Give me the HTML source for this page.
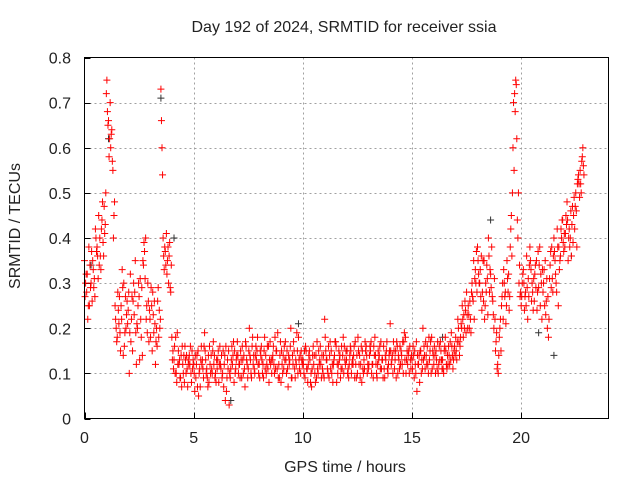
<!DOCTYPE html>
<html><head><meta charset="utf-8"><style>
body{margin:0;background:#fff}
svg text{font-family:"Liberation Sans",sans-serif;font-size:16px;fill:#222}
</style></head><body>
<svg id="chart" width="640" height="480" viewBox="0 0 640 480" xmlns="http://www.w3.org/2000/svg">
<rect width="640" height="480" fill="#fff"/>
<g id="grid"></g>
<g id="axes"></g>
<g id="pts"></g>
<rect x="84.5" y="57.5" width="524" height="361" fill="none" stroke="#000" stroke-width="1"/>
<text x="344" y="32" text-anchor="middle">Day 192 of 2024, SRMTID for receiver ssia</text>
<text x="345" y="472" text-anchor="middle">GPS time / hours</text>
<text transform="translate(20,226) rotate(-90)" text-anchor="middle">SRMTID / TECUs</text>
</svg>
<script>
const xTicks=[0,5,10,15,20];
const yTicks=[0,0.1,0.2,0.3,0.4,0.5,0.6,0.7,0.8];
const yTickLabels=["0","0.1","0.2","0.3","0.4","0.5","0.6","0.7","0.8"];
const seriesStarts=[0.0,0.025,0.05,0.075];
const step=0.1;
const seriesA=[0.35,0.28,0.38,0.30,0.33,0.42,0.36,0.40,0.44,0.47,
0.72,0.66,0.60,0.55,0.25,0.18,0.27,0.22,0.30,0.20,
0.24,0.32,0.15,0.28,0.21,0.27,0.18,0.34,0.40,0.30,
0.22,0.15,0.26,0.20,0.18,0.73,0.40,0.37,0.35,0.39,
0.18,0.13,0.10,0.15,0.09,0.12,0.16,0.11,0.14,0.08,
0.12,0.09,0.15,0.07,0.13,0.19,0.11,0.08,0.14,0.17,
0.10,0.13,0.16,0.09,0.12,0.06,0.15,0.11,0.14,0.10,
0.17,0.12,0.09,0.14,0.16,0.11,0.13,0.18,0.10,0.15,
0.12,0.16,0.09,0.14,0.11,0.17,0.13,0.10,0.15,0.12,
0.08,0.14,0.17,0.11,0.13,0.09,0.15,0.12,0.18,0.10,
0.13,0.09,0.11,0.15,0.07,0.12,0.14,0.10,0.16,0.11,
0.22,0.13,0.09,0.15,0.12,0.17,0.10,0.14,0.11,0.16,
0.13,0.09,0.15,0.12,0.17,0.10,0.14,0.08,0.13,0.16,
0.11,0.15,0.12,0.18,0.09,0.14,0.11,0.16,0.13,0.10,
0.21,0.14,0.11,0.17,0.13,0.15,0.10,0.18,0.12,0.16,
0.13,0.09,0.17,0.12,0.15,0.20,0.11,0.16,0.13,0.18,
0.12,0.15,0.10,0.17,0.13,0.16,0.11,0.14,0.19,0.13,
0.18,0.22,0.16,0.25,0.20,0.28,0.23,0.19,0.26,0.33,
0.38,0.30,0.24,0.35,0.28,0.40,0.32,0.26,0.22,0.11,
0.18,0.25,0.33,0.21,0.28,0.38,0.50,0.72,0.62,0.30,
0.25,0.33,0.28,0.22,0.38,0.30,0.26,0.35,0.29,0.32,
0.28,0.35,0.20,0.31,0.38,0.40,0.30,0.25,0.36,0.44,
0.38,0.48,0.42,0.36,0.45,0.50,0.53,0.55,0.58];
const seriesC=[0.27,0.32,0.25,0.37,0.29,0.40,0.31,0.36,0.48,0.41,
0.75,0.58,0.63,0.40,0.22,0.28,0.19,0.33,0.16,0.23,
0.28,0.17,0.26,0.35,0.20,0.13,0.29,0.39,0.22,0.26,
0.18,0.28,0.21,0.16,0.24,0.66,0.36,0.34,0.38,0.29,
0.13,0.16,0.08,0.12,0.14,0.10,0.13,0.07,0.12,0.15,
0.10,0.12,0.05,0.13,0.11,0.15,0.09,0.16,0.11,0.12,
0.08,0.15,0.12,0.10,0.14,0.09,0.03,0.13,0.17,0.11,
0.14,0.09,0.16,0.11,0.13,0.15,0.10,0.12,0.14,0.18,
0.09,0.13,0.15,0.10,0.16,0.12,0.14,0.18,0.11,0.09,
0.15,0.11,0.13,0.07,0.16,0.14,0.11,0.19,0.13,0.15,
0.12,0.16,0.08,0.13,0.11,0.14,0.09,0.15,0.12,0.10,
0.18,0.11,0.14,0.10,0.13,0.16,0.12,0.09,0.14,0.13,
0.15,0.12,0.10,0.14,0.12,0.18,0.09,0.15,0.11,0.14,
0.12,0.17,0.09,0.14,0.12,0.16,0.13,0.11,0.15,0.12,
0.15,0.10,0.13,0.16,0.11,0.14,0.17,0.10,0.14,0.13,
0.11,0.15,0.06,0.14,0.10,0.13,0.17,0.12,0.15,0.11,
0.16,0.13,0.12,0.15,0.11,0.18,0.14,0.12,0.16,0.15,
0.15,0.20,0.18,0.22,0.26,0.23,0.20,0.28,0.35,0.30,
0.35,0.33,0.28,0.22,0.34,0.36,0.29,0.23,0.15,0.12,
0.20,0.27,0.30,0.25,0.32,0.42,0.60,0.68,0.44,0.34,
0.27,0.30,0.25,0.31,0.35,0.28,0.32,0.24,0.34,0.30,
0.30,0.23,0.27,0.34,0.31,0.37,0.28,0.38,0.42,0.39,
0.41,0.44,0.38,0.43,0.49,0.46,0.54,0.52,0.60];
const seriesB=[0.30,0.22,0.34,0.26,0.31,0.37,0.45,0.33,0.39,0.43,
0.68,0.62,0.64,0.45,0.20,0.24,0.15,0.29,0.19,0.26,
0.10,0.22,0.30,0.19,0.25,0.31,0.14,0.37,0.25,0.17,
0.29,0.23,0.12,0.26,0.20,0.60,0.33,0.41,0.30,0.28,
0.15,0.10,0.19,0.13,0.07,0.14,0.10,0.13,0.16,0.11,
0.06,0.14,0.10,0.16,0.09,0.13,0.07,0.12,0.10,0.14,
0.13,0.08,0.11,0.15,0.04,0.13,0.10,0.16,0.08,0.13,
0.10,0.15,0.13,0.07,0.12,0.20,0.09,0.14,0.16,0.12,
0.15,0.10,0.18,0.12,0.08,0.13,0.16,0.11,0.19,0.14,
0.12,0.16,0.10,0.14,0.20,0.12,0.09,0.15,0.11,0.13,
0.10,0.15,0.12,0.08,0.14,0.10,0.17,0.12,0.09,0.14,
0.15,0.10,0.17,0.12,0.14,0.08,0.15,0.11,0.18,0.12,
0.10,0.14,0.12,0.16,0.09,0.15,0.12,0.11,0.17,0.10,
0.14,0.10,0.16,0.12,0.15,0.11,0.13,0.09,0.17,0.14,
0.12,0.17,0.15,0.10,0.16,0.12,0.19,0.13,0.15,0.11,
0.16,0.12,0.14,0.08,0.13,0.16,0.14,0.10,0.17,0.15,
0.14,0.11,0.16,0.13,0.10,0.15,0.12,0.17,0.14,0.16,
0.13,0.17,0.21,0.18,0.24,0.20,0.26,0.30,0.22,0.37,
0.32,0.27,0.35,0.25,0.31,0.28,0.38,0.20,0.17,0.10,
0.22,0.30,0.27,0.35,0.24,0.45,0.70,0.75,0.40,0.27,
0.30,0.24,0.36,0.27,0.33,0.24,0.34,0.28,0.38,0.22,
0.33,0.26,0.18,0.37,0.28,0.35,0.42,0.33,0.40,0.37,
0.45,0.35,0.40,0.47,0.42,0.38,0.52,0.50,0.56];
const seriesD=[0.32,0.25,0.29,0.35,0.27,0.38,0.34,0.42,0.36,0.50,
0.65,0.70,0.57,0.48,0.17,0.21,0.25,0.14,0.27,0.21,
0.19,0.27,0.23,0.12,0.30,0.22,0.35,0.31,0.19,0.24,
0.25,0.19,0.17,0.29,0.22,0.54,0.38,0.32,0.36,0.34,
0.11,0.18,0.12,0.09,0.16,0.08,0.14,0.12,0.10,0.13,
0.14,0.07,0.11,0.12,0.16,0.10,0.14,0.10,0.15,0.09,
0.11,0.12,0.14,0.07,0.16,0.11,0.09,0.12,0.15,0.14,
0.12,0.13,0.10,0.17,0.09,0.14,0.16,0.11,0.13,0.10,
0.14,0.12,0.11,0.16,0.13,0.10,0.12,0.15,0.09,0.17,
0.10,0.13,0.15,0.12,0.09,0.17,0.13,0.10,0.14,0.12,
0.15,0.11,0.14,0.10,0.16,0.08,0.11,0.13,0.14,0.09,
0.13,0.16,0.11,0.08,0.17,0.12,0.13,0.16,0.10,0.15,
0.11,0.16,0.13,0.09,0.14,0.12,0.16,0.10,0.15,0.12,
0.16,0.12,0.14,0.10,0.13,0.17,0.09,0.14,0.11,0.15,
0.13,0.15,0.09,0.14,0.12,0.17,0.13,0.15,0.10,0.14,
0.14,0.10,0.12,0.15,0.11,0.14,0.12,0.18,0.10,0.14,
0.10,0.17,0.13,0.11,0.15,0.12,0.16,0.13,0.11,0.14,
0.17,0.14,0.20,0.23,0.19,0.25,0.22,0.27,0.31,0.28,
0.30,0.36,0.26,0.30,0.23,0.33,0.27,0.31,0.19,0.14,
0.15,0.22,0.28,0.31,0.27,0.36,0.55,0.74,0.50,0.28,
0.32,0.27,0.29,0.34,0.26,0.31,0.29,0.37,0.25,0.33,
0.25,0.31,0.22,0.29,0.36,0.32,0.38,0.35,0.44,0.41,
0.43,0.40,0.46,0.39,0.47,0.52,0.49,0.57,0.54];
const blackTimes=[0.3,1.1,3.5,4.1,6.7,9.8,16.4,18.6,20.8,21.5,22.3];
const blackValues=[0.34,0.62,0.71,0.40,0.04,0.21,0.18,0.44,0.19,0.14,0.36];

const X0=84.5,X1=608.5,Y0=418.5,Y1=57.5;
const xs=v=>X0+(v/24)*(X1-X0);
const ys=v=>Y0-(v/0.8)*(Y0-Y1);
const NS="http://www.w3.org/2000/svg";
function mk(tag,parent,attrs){const e=document.createElementNS(NS,tag);for(const k in attrs)e.setAttribute(k,attrs[k]);parent.appendChild(e);return e;}
const grid=document.getElementById('grid'),axes=document.getElementById('axes'),pts=document.getElementById('pts');
xTicks.forEach((t,i)=>{
  const x=Math.round(xs(t))+0.5;
  if(t>0){const g=mk('line',grid,{x1:x,x2:x,y1:Y1,y2:Y0,stroke:'#a0a0a0','stroke-dasharray':'2,3'});
  
  }
  const tk=mk('line',axes,{x1:x,x2:x,y1:Y0,y2:Y0-6,stroke:'#000'});
  
  
  const lb=mk('text',axes,{x:xs(t),y:443,'text-anchor':'middle'});lb.textContent=String(t);
  
  
});
yTicks.forEach((t,i)=>{
  const y=Math.round(ys(t))+0.5;
  if(t>0&&t<0.8){const g=mk('line',grid,{x1:X0,x2:X1,y1:y,y2:y,stroke:'#a0a0a0','stroke-dasharray':'2,3'});
  
  }
  const tk=mk('line',axes,{x1:X0,x2:X0+6,y1:y,y2:y,stroke:'#000'});
  
  
  const lb=mk('text',axes,{x:71,y:ys(t)+6,'text-anchor':'end'});lb.textContent=yTickLabels[i];
  
  
});
function plus(t,v,color){
  const x=xs(t),y=ys(v);
  const p=mk('path',pts,{d:`M${x-3.5},${y}h7M${x},${y-3.5}v7`,stroke:color,'stroke-width':1,fill:'none'});
  
  
}
blackValues.forEach((v,i)=>plus(blackTimes[i],v,'#333'));
[seriesA,seriesC,seriesB,seriesD].forEach((s,k)=>s.forEach((v,i)=>plus(seriesStarts[k]+i*step,v,'#ff0000')));
</script>
</body></html>
